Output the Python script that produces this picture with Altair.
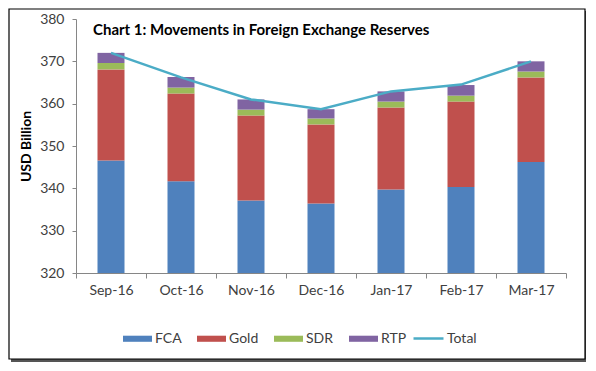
import altair as alt
import pandas as pd

# ---- data ----
months = ["Sep-16", "Oct-16", "Nov-16", "Dec-16", "Jan-17", "Feb-17", "Mar-17"]
fca = [346.6, 341.7, 337.1, 336.4, 339.7, 340.3, 346.2]
gold = [21.5, 20.7, 20.1, 18.7, 19.4, 20.2, 20.0]
sdr = [1.5, 1.4, 1.4, 1.4, 1.4, 1.4, 1.4]
rtp = [2.4, 2.5, 2.4, 2.2, 2.4, 2.5, 2.4]
total = [372.0, 366.2, 361.0, 358.7, 362.9, 364.5, 370.0]

components = ["FCA", "Gold", "SDR", "RTP"]
comp_colors = ["#4F81BD", "#C0504D", "#9BBB59", "#8064A2"]
line_color = "#4BACC6"
y_ticks = [320, 330, 340, 350, 360, 370, 380]
title_text = "Chart 1: Movements in Foreign Exchange Reserves"

rows = []
for i, m in enumerate(months):
    for k, (name, vals) in enumerate(zip(components, [fca, gold, sdr, rtp])):
        rows.append({"Month": m, "Component": name, "Value": vals[i], "k": k})
bars_df = pd.DataFrame(rows)
line_df = pd.DataFrame({"Month": months, "Total": total, "s": ["Total"] * len(months)})

FONT = "Lato"
LABEL_COLOR = "#404040"
AXIS_COLOR = "#868686"

y_scale = alt.Scale(domain=[320, 380], nice=False, zero=False)
x_enc = alt.X(
    "Month:N", sort=months, title=None,
    scale=alt.Scale(paddingInner=0, paddingOuter=0),
    axis=alt.Axis(labelAngle=0, tickBand="extent", tickSize=5, labelPadding=5,
                  domainColor=AXIS_COLOR, tickColor=AXIS_COLOR, labelColor=LABEL_COLOR,
                  labelFont=FONT, labelFontSize=14, zindex=1),
)

frame_df = pd.DataFrame({"a": [0]})
shadow_r = alt.Chart(frame_df).mark_rect(fill="#555555").encode(
    x=alt.value(509), x2=alt.value(512), y=alt.value(-8), y2=alt.value(343))
shadow_b = alt.Chart(frame_df).mark_rect(fill="#555555").encode(
    x=alt.value(-65), x2=alt.value(512), y=alt.value(340), y2=alt.value(343))
frame = alt.Chart(frame_df).mark_rect(fillOpacity=0, stroke="#000000", strokeWidth=1.2).encode(
    x=alt.value(-67), x2=alt.value(509), y=alt.value(-10), y2=alt.value(340))

title_df = pd.DataFrame({"t": [title_text]})
title = alt.Chart(title_df).mark_text(
    align="left", baseline="middle", font=FONT, fontSize=15, fontWeight="bold",
    color="#000000").encode(text="t:N", x=alt.value(17), y=alt.value(11))

bars = alt.Chart(bars_df).mark_bar(size=27, clip=True).encode(
    x=x_enc,
    y=alt.Y("Value:Q", stack="zero", scale=y_scale,
            axis=alt.Axis(values=y_ticks, grid=False, tickSize=4, labelPadding=8,
                          domainColor=AXIS_COLOR, tickColor=AXIS_COLOR,
                          labelColor=LABEL_COLOR, labelFont=FONT, labelFontSize=14,
                          title="USD Billion", titleFont=FONT, titleFontSize=14,
                          titleFontWeight="bold", titleColor="#000000", titlePadding=6,
                          zindex=1)),
    color=alt.Color("Component:N",
                    scale=alt.Scale(domain=components, range=comp_colors),
                    legend=alt.Legend(title=None, orient="none", direction="horizontal",
                                      legendX=47, legendY=305,
                                      symbolType="M-1,-0.21H1V0.21H-1Z", symbolSize=841,
                                      symbolStrokeWidth=0, labelFont=FONT, labelFontSize=14,
                                      labelColor=LABEL_COLOR, labelOffset=3, columnPadding=15)),
    order=alt.Order("k:Q", sort="ascending"),
)

line = alt.Chart(line_df).mark_line(strokeWidth=2.5).encode(
    x=alt.X("Month:N", sort=months),
    y=alt.Y("Total:Q", scale=y_scale),
    stroke=alt.Stroke("s:N", scale=alt.Scale(domain=["Total"], range=[line_color]),
                      legend=alt.Legend(title=None, orient="none", direction="horizontal",
                                        legendX=336, legendY=303, symbolType="stroke",
                                        symbolSize=900, symbolStrokeWidth=2.5,
                                        labelFont=FONT, labelFontSize=14,
                                        labelColor=LABEL_COLOR, labelOffset=2)),
)

chart = alt.layer(shadow_r, shadow_b, frame, bars, line, title).properties(
    width=490, height=254,
    autosize=alt.AutoSizeParams(type="none"),
    padding={"left": 68, "top": 11, "right": 20, "bottom": 90},
).configure_view(stroke="transparent")

chart.save("out.html", embed_options={"renderer": "svg", "actions": False})
